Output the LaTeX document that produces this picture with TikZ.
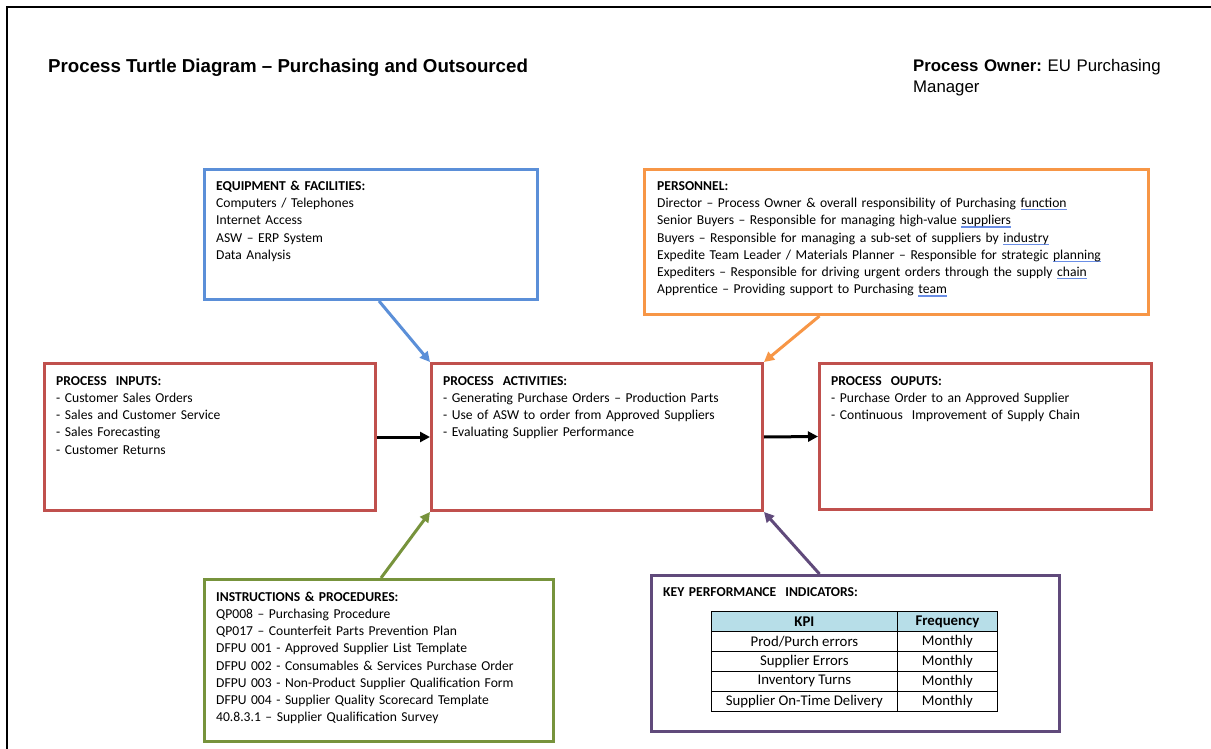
\documentclass[tikz,border=0pt]{standalone}
\usepackage{fontspec}
\setmainfont{Carlito}
\newfontfamily\arialf{Liberation Sans}
\usetikzlibrary{arrows.meta}
\definecolor{boxblue}{HTML}{5B8FD8}
\definecolor{boxorange}{HTML}{F79646}
\definecolor{boxred}{HTML}{C0504D}
\definecolor{boxgreen}{HTML}{77933C}
\definecolor{boxpurple}{HTML}{604A7B}
\definecolor{hdrblue}{HTML}{B7DEE8}
\definecolor{gramblue}{HTML}{6A8EE6}
\newcommand\gramul[1]{{\setbox0\hbox{#1}\rlap{\textcolor{gramblue}{\rule[-2.6pt]{\wd0}{1.3pt}}}\box0}}
\tikzset{
  box/.style={draw=#1, line width=3pt, anchor=north west, inner sep=0pt},
  txt/.style={anchor=base west, text width=#1, align=left, inner sep=0pt,
    font={\fontsize{13.6}{17.25}\selectfont}},
  cell/.style={draw=black, line width=0.8pt, anchor=north west, inner sep=0pt,
    minimum height=20pt, font={\fontsize{14.8}{16}\selectfont}},
  arr/.style={draw=#1, line width=3pt, -{Triangle[length=10pt,width=10pt]}},
}
\begin{document}
\begin{tikzpicture}[x=1pt,y=-1pt]
\useasboundingbox (0,0) rectangle (1211,749);
\draw[line width=2.5pt] (7,749) -- (7,7) -- (1211,7);

% titles
\node[anchor=base west, inner sep=0pt, font={\arialf\bfseries\fontsize{18.7}{20}\selectfont}] (title) at (48,72.5)
  {Process Turtle Diagram – Purchasing and Outsourced};
\node[anchor=base west, inner sep=0pt, text width=280pt, align=left,
  font={\arialf\fontsize{16.8}{21}\selectfont}] (owner) at (913,72)
  {\textbf{Process Owner:}~EU Purchasing\\Manager};

% boxes
\node[box=boxblue, minimum width=333pt, minimum height=130pt] (eq) at (203,168) {};
\node[box=boxorange, minimum width=504pt, minimum height=145pt] (per) at (643,168) {};
\node[box=boxred, minimum width=331pt, minimum height=147pt] (inp) at (43,362) {};
\node[box=boxred, minimum width=331pt, minimum height=147pt] (act) at (430,362) {};
\node[box=boxred, minimum width=332pt, minimum height=146pt] (out) at (818,362) {};
\node[box=boxgreen, minimum width=349pt, minimum height=162pt] (ins) at (203,578) {};
\node[box=boxpurple, minimum width=408pt, minimum height=156pt] (kpi) at (650,574) {};

% texts
\node[txt=310pt] (eqt) at (216,190.5) {\textbf{EQUIPMENT \& FACILITIES:}\\
Computers / Telephones\\
Internet Access\\
ASW – ERP System\\
Data Analysis};

\node[txt=490pt] (pert) at (657,190.5) {\textbf{PERSONNEL:}\\
Director – Process Owner \& overall responsibility of Purchasing \gramul{function}\\
Senior Buyers – Responsible for managing high-value \gramul{suppliers}\\
Buyers – Responsible for managing a sub-set of suppliers by \gramul{industry}\\
Expedite Team Leader / Materials Planner – Responsible for strategic \gramul{planning}\\
Expediters – Responsible for driving urgent orders through the supply \gramul{chain}\\
Apprentice – Providing support to Purchasing \gramul{team}};

\node[txt=310pt] (inpt) at (56,385) {\textbf{PROCESS\ \ INPUTS:}\\
- Customer Sales Orders\\
- Sales and Customer Service\\
- Sales Forecasting\\
- Customer Returns};

\node[txt=310pt] (actt) at (443,385) {\textbf{PROCESS\ \ ACTIVITIES:}\\
- Generating Purchase Orders – Production Parts\\
- Use of ASW to order from Approved Suppliers\\
- Evaluating Supplier Performance};

\node[txt=310pt] (outt) at (831,385) {\textbf{PROCESS\ \ OUPUTS:}\\
- Purchase Order to an Approved Supplier\\
- Continuous\ \ Improvement of Supply Chain};

\node[txt=340pt] (inst) at (216,601) {\textbf{INSTRUCTIONS \& PROCEDURES:}\\
QP008 – Purchasing Procedure\\
QP017 – Counterfeit Parts Prevention Plan\\
DFPU 001 - Approved Supplier List Template\\
DFPU 002 - Consumables \& Services Purchase Order\\
DFPU 003 - Non-Product Supplier Qualification Form\\
DFPU 004 - Supplier Quality Scorecard Template\\
40.8.3.1 – Supplier Qualification Survey};

\node[txt=390pt] (kpit) at (663,596) {\textbf{KEY PERFORMANCE\ \ INDICATORS:}};

% table
\node[cell, fill=hdrblue, minimum width=186pt] (k0) at (711,611) {\textbf{KPI}};
\node[cell, fill=hdrblue, minimum width=100pt] (f0) at (897,611) {\textbf{Frequency}};
\node[cell, minimum width=186pt] (k1) at (711,631) {Prod/Purch errors};
\node[cell, minimum width=100pt] (f1) at (897,631) {Monthly};
\node[cell, minimum width=186pt] (k2) at (711,651) {Supplier Errors};
\node[cell, minimum width=100pt] (f2) at (897,651) {Monthly};
\node[cell, minimum width=186pt] (k3) at (711,671) {Inventory Turns};
\node[cell, minimum width=100pt] (f3) at (897,671) {Monthly};
\node[cell, minimum width=186pt] (k4) at (711,691) {Supplier On-Time Delivery};
\node[cell, minimum width=100pt] (f4) at (897,691) {Monthly};

% connectors
\draw[arr=boxblue] ([xshift=8pt]eq.south) -- (act.north west);
\draw[arr=boxorange] ([xshift=-77pt]per.south) -- (act.north east);
\draw[arr=boxgreen] ([xshift=2pt]ins.north) -- (act.south west);
\draw[arr=boxpurple] ([xshift=-36pt]kpi.north) -- (act.south east);
\draw[arr=black] (inp.east) -- (act.west);
\draw[arr=black] (act.east) -- (out.west);
\end{tikzpicture}
\end{document}
